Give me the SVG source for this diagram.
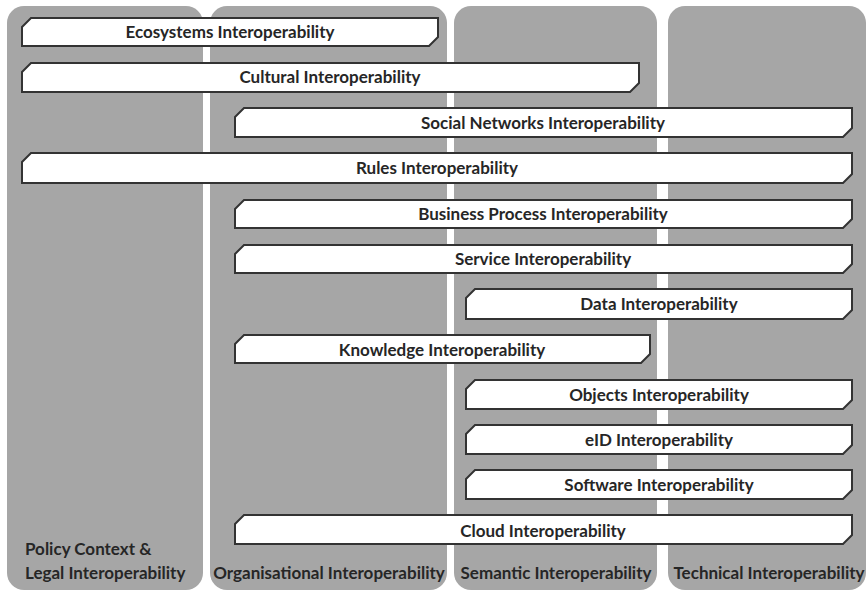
<svg xmlns="http://www.w3.org/2000/svg" width="867" height="591" viewBox="0 0 867 591">
  <style>
    .col { fill: #a6a6a6; }
    .bar { fill: #ffffff; stroke: #333333; stroke-width: 2; stroke-linejoin: miter; }
    .lbl { font-family: Lato, "Open Sans", "Liberation Sans", sans-serif; font-weight: 700; font-size: 17px; fill: #262626; }
    .mid { text-anchor: middle; }
  </style>

  <rect width="867" height="591" fill="#ffffff"/>

  <!-- Layer columns -->
  <g id="col-policy">
    <rect class="col" x="7" y="6" width="196" height="584" rx="17"/>
    <text class="lbl" x="25" y="555">Policy Context &amp;</text>
    <text class="lbl" x="25" y="579">Legal Interoperability</text>
  </g>
  <g id="col-organisational">
    <rect class="col" x="210" y="6" width="237" height="584" rx="17"/>
    <text class="lbl mid" x="329" y="579">Organisational Interoperability</text>
  </g>
  <g id="col-semantic">
    <rect class="col" x="454" y="6" width="203" height="584" rx="17"/>
    <text class="lbl mid" x="556" y="579">Semantic Interoperability</text>
  </g>
  <g id="col-technical">
    <rect class="col" x="668" y="6" width="198" height="584" rx="17"/>
    <text class="lbl mid" x="769" y="579">Technical Interoperability</text>
  </g>

  <!-- Bars: chamfered top-left and bottom-right corners -->
  <g id="bar-ecosystems">
    <path class="bar" d="M22,27 L31,18 L438,18 L438,37 L429,46 L22,46 Z"/>
    <text class="lbl mid" x="230" y="38">Ecosystems Interoperability</text>
  </g>
  <g id="bar-cultural">
    <path class="bar" d="M22,72 L31,63 L639,63 L639,83 L630,92 L22,92 Z"/>
    <text class="lbl mid" x="330" y="83">Cultural Interoperability</text>
  </g>
  <g id="bar-social">
    <path class="bar" d="M235,117 L244,108 L852,108 L852,128 L843,137 L235,137 Z"/>
    <text class="lbl mid" x="543" y="129">Social Networks Interoperability</text>
  </g>
  <g id="bar-rules">
    <path class="bar" d="M22,162 L31,153 L852,153 L852,174 L843,183 L22,183 Z"/>
    <text class="lbl mid" x="437" y="174">Rules Interoperability</text>
  </g>
  <g id="bar-business">
    <path class="bar" d="M235,209 L244,200 L852,200 L852,219 L843,228 L235,228 Z"/>
    <text class="lbl mid" x="543" y="220">Business Process Interoperability</text>
  </g>
  <g id="bar-service">
    <path class="bar" d="M235,254 L244,245 L852,245 L852,264 L843,273 L235,273 Z"/>
    <text class="lbl mid" x="543" y="265">Service Interoperability</text>
  </g>
  <g id="bar-data">
    <path class="bar" d="M466,298 L475,289 L852,289 L852,310 L843,319 L466,319 Z"/>
    <text class="lbl mid" x="659" y="310">Data Interoperability</text>
  </g>
  <g id="bar-knowledge">
    <path class="bar" d="M235,344 L244,335 L650,335 L650,354 L641,363 L235,363 Z"/>
    <text class="lbl mid" x="442" y="356">Knowledge Interoperability</text>
  </g>
  <g id="bar-objects">
    <path class="bar" d="M466,389 L475,380 L852,380 L852,400 L843,409 L466,409 Z"/>
    <text class="lbl mid" x="659" y="401">Objects Interoperability</text>
  </g>
  <g id="bar-eid">
    <path class="bar" d="M466,434 L475,425 L852,425 L852,445 L843,454 L466,454 Z"/>
    <text class="lbl mid" x="659" y="446">eID Interoperability</text>
  </g>
  <g id="bar-software">
    <path class="bar" d="M466,479 L475,470 L852,470 L852,490 L843,499 L466,499 Z"/>
    <text class="lbl mid" x="659" y="491">Software Interoperability</text>
  </g>
  <g id="bar-cloud">
    <path class="bar" d="M235,524 L244,515 L852,515 L852,535 L843,544 L235,544 Z"/>
    <text class="lbl mid" x="543" y="537">Cloud Interoperability</text>
  </g>

  <g id="connectors"/>
</svg>
